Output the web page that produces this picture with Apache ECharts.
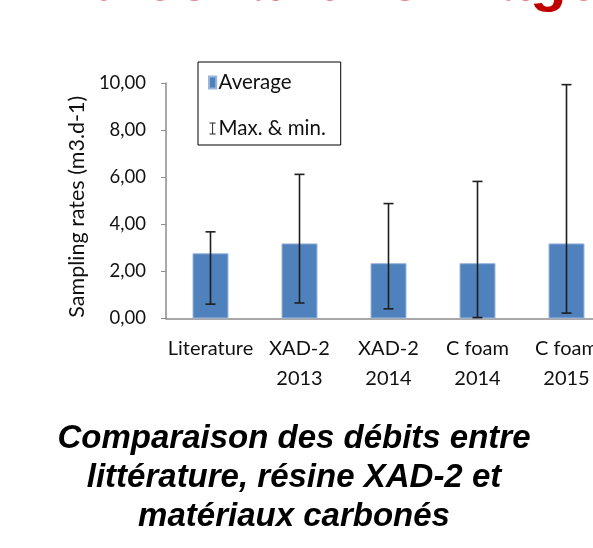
<!DOCTYPE html>
<html>
<head>
<meta charset="utf-8">
<script src="https://cdn.jsdelivr.net/npm/echarts@6/dist/echarts.min.js"></script>
<style>
  html, body { margin: 0; padding: 0; background: #fff; }
  #main { width: 593px; height: 548px; }
</style>
</head>
<body>
<div id="main"></div>
<script>
// categories and values (m3.d-1)
var categories = ['Literature', 'XAD-2\n2013', 'XAD-2\n2014', 'C foam\n2014', 'C foam\n2015'];
var averages = [2.77, 3.19, 2.35, 2.35, 3.19];
var maxValues = [3.68, 6.12, 4.88, 5.82, 9.93];
var minValues = [0.61, 0.66, 0.41, 0.04, 0.23];

var errorData = [];
for (var i = 0; i < categories.length; i++) {
	errorData.push([i, minValues[i], maxValues[i]]);
}

var myChart = echarts.init(document.getElementById('main'));
var labelFont = 'Lato, "Open Sans", sans-serif';

var option = {
	animation: false,
	backgroundColor: '#fff',
	grid: {
		left: 166,
		top: 83,
		width: 445,
		height: 235.5,
		containLabel: false,
		outerBoundsMode: 'none'
	},
	legend: {
		orient: 'vertical',
		left: 198,
		top: 62,
		padding: [10, 15, 6, 10],
		itemGap: 25,
		itemWidth: 8,
		itemHeight: 12,
		borderColor: '#000',
		borderWidth: 1,
		textStyle: { fontFamily: labelFont, fontSize: 20.5, color: '#111', padding: [0, 0, 0, -3] },
		data: [
			{ name: 'Average', icon: 'path://M1,0h6v10h-6z' },
			{ name: 'Max. & min.', icon: 'path://M0,0h10v1.6h-4.2v16.8h4.2v1.6h-10v-1.6h4.2v-16.8h-4.2z' }
		]
	},
	xAxis: {
		type: 'category',
		data: categories,
		axisLine: { lineStyle: { color: '#8c8c8c', width: 1.5 } },
		axisTick: { show: false },
		axisLabel: {
			interval: 0,
			margin: 15,
			fontFamily: labelFont,
			fontSize: 20,
			lineHeight: 30,
			color: '#111'
		}
	},
	yAxis: {
		type: 'value',
		min: 0,
		max: 10,
		interval: 2,
		name: 'Sampling rates (m3.d-1)',
		nameLocation: 'middle',
		nameGap: 66,
		nameTextStyle: { fontFamily: labelFont, fontSize: 21.5, color: '#111', padding: [0, 12, 0, 0] },
		axisLine: { show: true, lineStyle: { color: '#8c8c8c', width: 1.5 } },
		axisTick: { show: true, length: 5, lineStyle: { color: '#8c8c8c' } },
		splitLine: { show: false },
		axisLabel: {
			margin: 20,
			fontFamily: labelFont,
			fontSize: 18.5,
			color: '#111',
			formatter: function (v) {
				return v.toFixed(2).replace('.', ',');
			}
		}
	},
	series: [
		{
			name: 'Average',
			type: 'bar',
			barWidth: 36,
			data: averages,
			itemStyle: { color: '#4f81bd', borderColor: '#9bb6da', borderWidth: 1 }
		},
		{
			name: 'Max. & min.',
			type: 'custom',
			data: errorData,
			itemStyle: { color: '#222' },
			z: 5,
			renderItem: function (params, api) {
				var x = api.value(0);
				var low = api.coord([x, api.value(1)]);
				var high = api.coord([x, api.value(2)]);
				var cap = 5;
				var style = { stroke: '#1e1e1e', lineWidth: 1.6, fill: null };
				return {
					type: 'group',
					children: [
						{ type: 'line', shape: { x1: high[0], y1: high[1], x2: low[0], y2: low[1] }, style: style },
						{ type: 'line', shape: { x1: high[0] - cap, y1: high[1], x2: high[0] + cap, y2: high[1] }, style: style },
						{ type: 'line', shape: { x1: low[0] - cap, y1: low[1], x2: low[0] + cap, y2: low[1] }, style: style }
					]
				};
			}
		}
	],
	graphic: [
		{
			type: 'text',
			left: 90,
			top: -47,
			style: {
				text: 'd’échantillonnage',
				fill: '#c00000',
				font: 'bold 60px "Liberation Sans", Arial, sans-serif'
			}
		},
		{
			type: 'text',
			x: 294,
			y: 419,
			style: {
				text: 'Comparaison des débits entre\nlittérature, résine XAD-2 et\nmatériaux carbonés',
				fill: '#000',
				align: 'center',
				verticalAlign: 'top',
				lineHeight: 39,
				font: 'italic bold 33px "Liberation Sans", Arial, sans-serif'
			}
		}
	]
};

myChart.setOption(option);
</script>
</body>
</html>
